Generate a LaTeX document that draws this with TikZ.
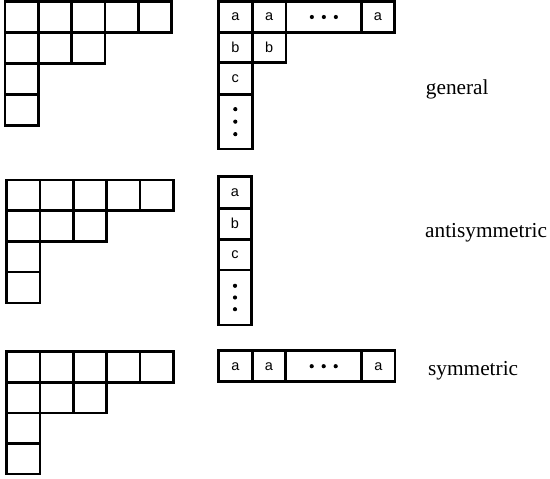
\documentclass[tikz,border=0pt]{standalone}
\usepackage{fontspec}
\setmainfont{Liberation Serif}
\newfontfamily\cellfont{Liberation Sans}
\tikzset{
  ycell/.style={draw, line width=2.6pt, inner sep=0pt, outer sep=0pt, font=\cellfont\fontsize{14.5}{15}\selectfont},
  lbl/.style={anchor=base west, inner sep=0pt, font=\fontsize{21.3}{24}\selectfont},
  dotfill/.style={fill=black}
}
% \ycell{name}{x1}{y1}{x2}{y2}{text}
\newcommand\ycell[6]{%
  \node[ycell, minimum width={((#4)-(#2))*1pt}, minimum height={((#5)-(#3))*1pt}] (#1) at ({((#2)+(#4))/2},{((#3)+(#5))/2}) {#6};}
\newcommand\emptytab[4]{% prefix, x0, y0, row height
  \foreach \c in {0,...,4}{\ycell{#1r1c\c}{#2+\c*33.35}{#3}{#2+\c*33.35+33.35}{#3+#4}{}}
  \foreach \c in {0,...,2}{\ycell{#1r2c\c}{#2+\c*33.35}{#3+#4}{#2+\c*33.35+33.35}{#3+2*#4}{}}
  \ycell{#1r3c0}{#2}{#3+2*#4}{#2+33.35}{#3+3*#4}{}
  \ycell{#1r4c0}{#2}{#3+3*#4}{#2+33.35}{#3+4*#4}{}
}
\begin{document}
\begin{tikzpicture}[x=1pt,y=-1pt]
\useasboundingbox (0,0) rectangle (550,479);
% left empty tableaux
\emptytab{g}{5}{1.5}{31}
\emptytab{an}{6.7}{180}{30.7}
\emptytab{s}{6.7}{351.7}{30.6}
% general filled tableau
\ycell{ga1}{218.3}{1.7}{252.3}{32.3}{a}
\ycell{ga2}{252.3}{1.7}{286}{32.3}{a}
\ycell{gad}{286}{1.7}{361.7}{32.3}{}
\ycell{gan}{361.7}{1.7}{394.3}{32.3}{a}
\ycell{gb1}{218.3}{32.3}{252.3}{62.7}{b}
\ycell{gb2}{252.3}{32.3}{286}{62.7}{b}
\ycell{gc1}{218.3}{62.7}{252.3}{94.3}{c}
\ycell{gvd}{218.3}{94.3}{252.3}{149}{}
\foreach \d in {-12,0,12}{\fill[dotfill] ([xshift=\d pt]gad.center) circle (2.1);}
\foreach \d in {-12.5,0,12.5}{\fill[dotfill] ([yshift=\d pt]gvd.center) circle (2.1);}
% antisymmetric column
\ycell{aa}{218.3}{176.7}{251.7}{208.3}{a}
\ycell{ab}{218.3}{208.3}{251.7}{239.3}{b}
\ycell{ac}{218.3}{239.3}{251.7}{270}{c}
\ycell{avd}{218.3}{270}{251.7}{325}{}
\foreach \d in {-11.7,0,11.7}{\fill[dotfill] ([yshift=\d pt]avd.center) circle (2.1);}
% symmetric row
\ycell{sa1}{218.3}{350.7}{252.3}{381.7}{a}
\ycell{sa2}{252.3}{350.7}{285.7}{381.7}{a}
\ycell{sad}{285.7}{350.7}{361.7}{381.7}{}
\ycell{san}{361.7}{350.7}{395}{381.7}{a}
\foreach \d in {-12,0,12}{\fill[dotfill] ([xshift=\d pt]sad.center) circle (2.1);}
% labels
\node[lbl] (lgen) at (425.7,94) {general};
\node[lbl] (lanti) at (425,237) {antisymmetric};
\node[lbl] (lsym) at (428,375.7) {symmetric};
\end{tikzpicture}
\end{document}
